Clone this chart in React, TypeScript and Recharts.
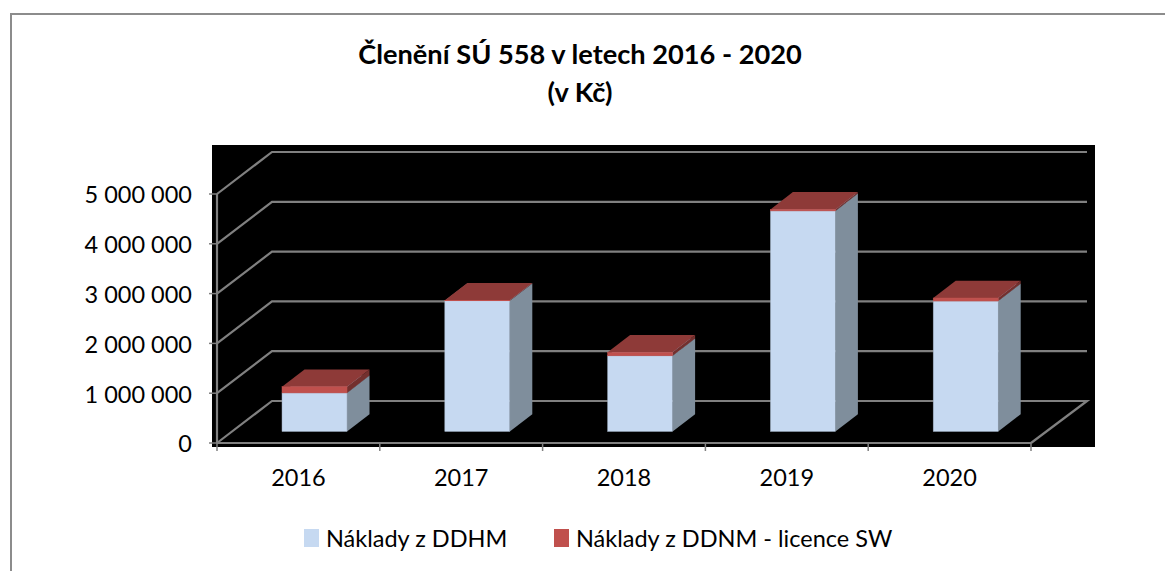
import React from "react";
import { BarChart, Bar, XAxis, YAxis, CartesianGrid, Legend } from "recharts";

const years = ["2016", "2017", "2018", "2019", "2020"];
const ddhm = [775000, 2625000, 1520000, 4430000, 2620000];
const ddnm = [125000, 10000, 70000, 30000, 60000];
const yTicks = [0, 1000000, 2000000, 3000000, 4000000, 5000000];
const titleLines = ["Členění SÚ 558 v letech 2016 - 2020", "(v Kč)"];
const seriesNames = ["Náklady z DDHM", "Náklady z DDNM - licence SW"];

const rows = years.map((year, i) => ({ year, ddhm: ddhm[i], ddnm: ddnm[i] }));

const FONT = "Lato, Carlito, sans-serif";
const AXIS = "#808080";
const DEPTH_X = 55;
const DEPTH_Y = 42;
const BAR_DX = 16;
const BAR_DY = -11.5;
const BAR_DEPTH_X = 22.5;
const BAR_DEPTH_Y = 17.3;

const pts = (a: number[][]) => a.map((p) => p.join(",")).join(" ");

const cuboid = (front: string, top: string, side: string, edge: string) => (p: any) => {
  const x = p.x + BAR_DX;
  const y = p.y + BAR_DY;
  const w = p.width;
  const h = p.height;
  const dx = BAR_DEPTH_X;
  const dy = BAR_DEPTH_Y;
  return (
    <g>
      <polygon points={pts([[x + w, y], [x + w + dx, y - dy], [x + w + dx, y + h - dy], [x + w, y + h]])} fill={side} />
      <polygon points={pts([[x, y], [x + dx, y - dy], [x + w + dx, y - dy], [x + w, y]])} fill={top} />
      <rect x={x} y={y} width={w} height={h} fill={front} stroke={edge} strokeWidth={0.5} />
    </g>
  );
};

const gridLine = (p: any) => {
  const { x1, x2, y1, index } = p;
  const isFloor = Math.abs(y1 - 443) < 1;
  const d = isFloor
    ? `M${x1},${y1} L${x1 + DEPTH_X},${y1 - DEPTH_Y} L${x2 + DEPTH_X + 1},${y1 - DEPTH_Y} L${x2},${y1}`
    : `M${x1},${y1} L${x1 + DEPTH_X},${y1 - DEPTH_Y} L${x2 + DEPTH_X + 1},${y1 - DEPTH_Y}`;
  return <path key={`g-${index}`} d={d} fill="none" stroke={AXIS} strokeWidth={2.2} />;
};

const YearTick = (p: any) => {
  const { x, payload, index, width } = p;
  const band = width / years.length;
  const left = x - band / 2;
  return (
    <g>
      <line x1={left} x2={left} y1={443} y2={451} stroke={AXIS} strokeWidth={1.5} />
      {index === years.length - 1 && (
        <line x1={left + band} x2={left + band} y1={443} y2={451} stroke={AXIS} strokeWidth={1.5} />
      )}
      <text x={x} y={486} textAnchor="middle" fontFamily={FONT} fontSize={23.5} fill="#000">
        {payload.value}
      </text>
    </g>
  );
};

const LegendContent = ({ payload }: any) => (
  <div style={{ position: "relative", height: 30, fontFamily: FONT, fontSize: 23.5, color: "#000" }}>
    {(payload || []).map((item: any, i: number) => (
      <div key={item.value} style={{ position: "absolute", left: i === 0 ? 304 : 554, top: 0, display: "flex", alignItems: "center", whiteSpace: "nowrap", height: 30 }}>
        <span style={{ display: "inline-block", width: 15, height: 18, background: item.color, marginRight: 7 }} />
        <span>{item.value}</span>
      </div>
    ))}
  </div>
);

export default function App() {
  return (
    <div style={{ position: "absolute", left: 0, top: 0, width: 1165, height: 571, background: "#fff", overflow: "hidden" }}>
      <div style={{ position: "absolute", left: 9.5, top: 12.5, right: 0, bottom: 0, borderTop: "2px solid #8c8c8c", borderLeft: "2px solid #8c8c8c" }} />
      <div style={{ position: "absolute", left: 212, top: 145, width: 883, height: 302, background: "#000" }} />
      <div style={{ position: "absolute", left: 0, width: 1160, top: 35, textAlign: "center", fontFamily: FONT, fontWeight: 700, fontSize: 27.2, lineHeight: "38px", color: "#000" }}>
        {titleLines.map((t) => (
          <div key={t}>{t}</div>
        ))}
      </div>
      <BarChart
        width={1165}
        height={571}
        data={rows}
        barSize={65}
        margin={{ top: 194, right: 134, bottom: 0, left: 117 }}
        style={{ position: "absolute", left: 0, top: 0 }}
      >
        <CartesianGrid vertical={false} horizontal={gridLine} />
        <XAxis
          dataKey="year"
          height={128}
          axisLine={{ stroke: AXIS, strokeWidth: 2.2 }}
          tickLine={false}
          interval={0}
          tick={<YearTick />}
        />
        <YAxis
          width={100}
          domain={[0, 5000000]}
          ticks={yTicks}
          interval={0}
          axisLine={{ stroke: AXIS, strokeWidth: 2.2 }}
          tickLine={{ stroke: AXIS, strokeWidth: 1.5 }}
          tickSize={8}
          tickMargin={17}
          tick={{ fontFamily: FONT, fontSize: 23.5, fill: "#000", dy: 1 }}
          tickFormatter={(v: number) => String(v).replace(/\B(?=(\d{3})+$)/g, " ")}
        />
        <Legend verticalAlign="middle" layout="horizontal" wrapperStyle={{ top: 523, left: 0, width: 1165 }} content={<LegendContent />} />
        <Bar dataKey="ddhm" name={seriesNames[0]} stackId="a" fill="#C6D9F1" isAnimationActive={false} shape={cuboid("#C6D9F1", "#9fb2c8", "#7F8E9C", "#9aa9bb")} />
        <Bar dataKey="ddnm" name={seriesNames[1]} stackId="a" fill="#C0504D" isAnimationActive={false} shape={cuboid("#C0504D", "#8E3A38", "#73302E", "#C0504D")} />
      </BarChart>
    </div>
  );
}
